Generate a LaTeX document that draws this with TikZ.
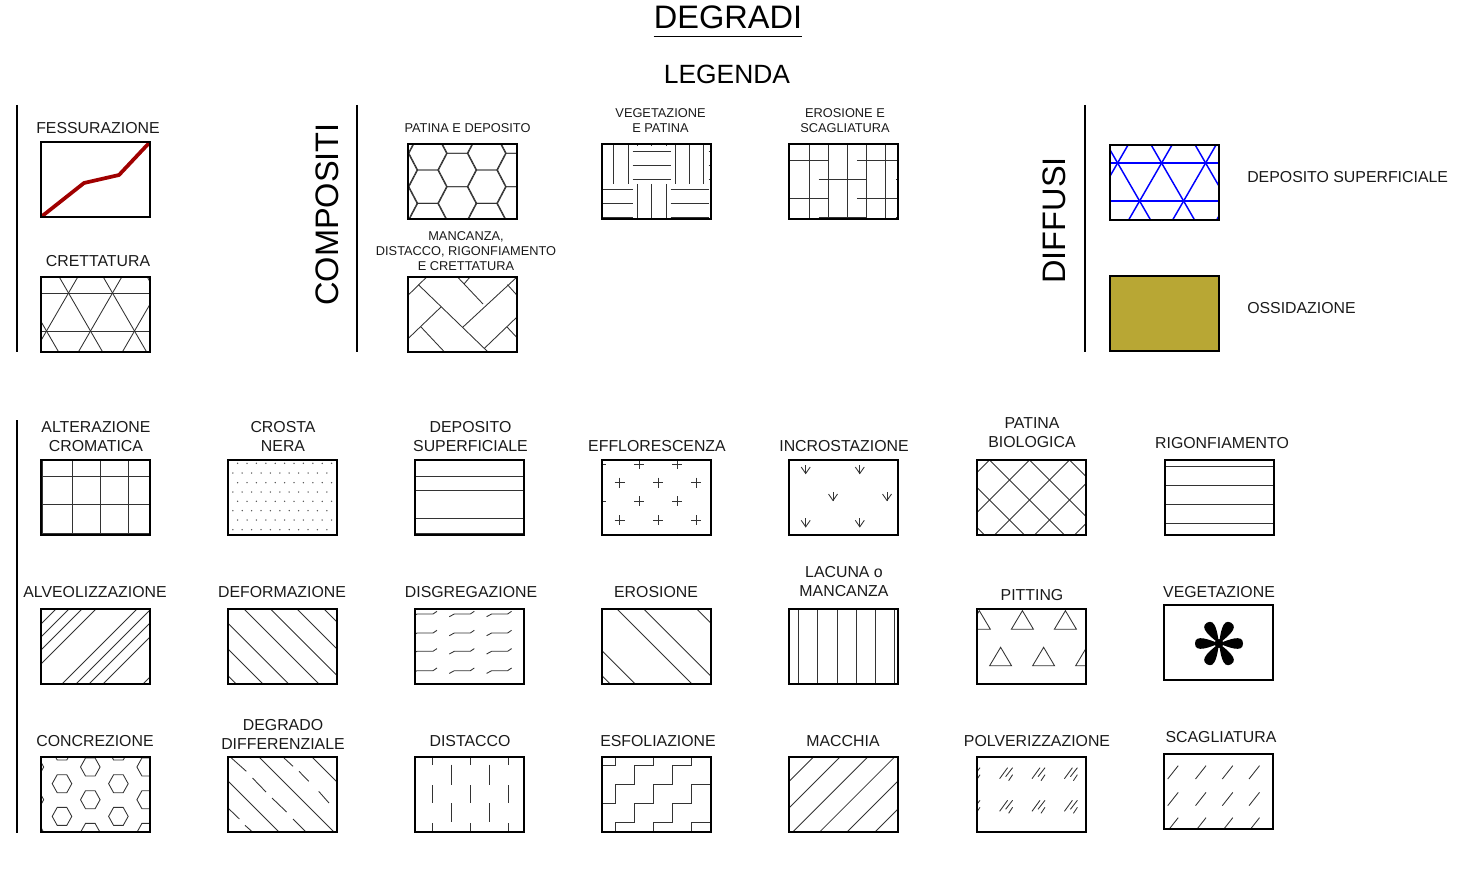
\documentclass[tikz,border=0pt]{standalone}
\usepackage{fontspec}
\setmainfont{Liberation Sans}
\usepackage{xcolor}
\usetikzlibrary{positioning}
\definecolor{crackred}{RGB}{160,0,0}
\definecolor{netblue}{RGB}{0,0,255}
\definecolor{rustgold}{RGB}{184,167,52}
\definecolor{inkblack}{RGB}{26,26,26}
\tikzset{
  boxframe/.style={draw=black,line width=1.15pt,rectangle,inner sep=0pt,
    minimum width=81.75pt,minimum height=56.25pt},
  hatchline/.style={color=black!80,line width=.65pt},
  lab/.style={font=\fontsize{11.9}{14.25}\selectfont,align=center,text=inkblack,inner sep=0pt,yshift=-.75pt},
  smalllab/.style={font=\fontsize{9.6}{11.25}\selectfont,align=center,text=inkblack,inner sep=0pt},
  grouplab/.style={font=\fontsize{24.4}{28}\selectfont,rotate=90,text=black,inner sep=0pt},
  rulebar/.style={draw=black,line width=1pt}
}
\newcommand{\hatchbox}[4]{%
  \begin{scope}[shift={(#2,#3)}]
    \begin{scope}[hatchline]
      \clip (0,0) rectangle (109,75);
      #4
    \end{scope}
    \node[boxframe] (#1) at (54.5,37.5) {};
  \end{scope}}
\newcommand{\slashlines}[1]{\foreach \c in {#1} \draw ({\c},0) -- ({\c-90},90);}
\newcommand{\backlines}[1]{\foreach \c in {#1} \draw ({\c},0) -- ({\c+90},90);}
\newcommand{\hlines}[1]{\foreach \c in {#1} \draw (0,\c) -- (109,\c);}
\newcommand{\vlines}[1]{\foreach \c in {#1} \draw (\c,0) -- (\c,75);}
\newcommand{\hexat}[5]{\draw ({#1-#3},{#2}) -- ({#1-#4},{#2-#5}) -- ({#1+#4},{#2-#5})
  -- ({#1+#3},{#2}) -- ({#1+#4},{#2+#5}) -- ({#1-#4},{#2+#5}) -- cycle;}
\newcommand{\trinet}[3]{%
  \foreach \c in {#2,#3} \draw (0,\c) -- (109,\c);
  \foreach \k in {-3,...,4} {
    \draw ({#1+44*\k-66},{#2-114}) -- ({#1+44*\k+66},{#2+114});
    \draw ({#1+44*\k+66},{#2-114}) -- ({#1+44*\k-66},{#2+114});
  }}
\begin{document}
\begin{tikzpicture}[x=.75pt,y=-.75pt]
  \useasboundingbox (0,0) rectangle (1477,877);
  \node[font=\fontsize{24.4}{28}\selectfont,text=black,inner sep=0pt,minimum height=28.5pt,anchor=center] (title) at (728,17) {DEGRADI};
  \draw[black,line width=1pt] (title.south west) -- (title.south east);
  \node[font=\fontsize{19.8}{24}\selectfont,text=black,inner sep=0pt] (legend) at (727,74) {LEGENDA};
  \node[grouplab] (compositi) at (327,214.5) {COMPOSITI};
  \node[grouplab] (diffusi) at (1054,220.5) {DIFFUSI};

  \draw[rulebar] (17,105) -- (17,352);
  \draw[rulebar] (357,105) -- (357,352);
  \draw[rulebar] (1085,105) -- (1085,352);
  \draw[rulebar] (17,420) -- (17,833);

  \hatchbox{fessurazione}{41}{142}{
    \draw[crackred,line width=2.8pt,line join=round] (0,75) -- (43,41) -- (78,33) -- (109,0);}
  \node[lab] (fessurazione-lab) at (98,127) {FESSURAZIONE};
  \hatchbox{crettatura}{41}{277}{\trinet{27.5}{16}{54}}
  \node[lab] (crettatura-lab) at (98,260) {CRETTATURA};

  \hatchbox{patinadeposito}{408}{144}{
    \foreach \i in {-1,0,1,2} \foreach \j in {-1,0,1,2} {
      \hexat{49.25+59*\i}{26+33.4*\j}{19.5}{10.75}{16.7}
      \hexat{78.75+59*\i}{42.7+33.4*\j}{19.5}{10.75}{16.7}
    }}
  \node[smalllab] (patinadeposito-lab) at (467.5,128) {PATINA E DEPOSITO};
  \hatchbox{mancanza}{408}{277}{
    \draw (0,18.3) -- (18.7,0);
    \draw (10.4,7.7) -- (80,75);
    \draw (49.5,0) -- (75,27);
    \draw (62,0) -- (56,7);
    \draw (99.5,7.7) -- (109,18.3);
    \draw (109,0) -- (55,50);
    \draw (33,30) -- (0,61.7);
    \draw (13,50) -- (36.5,75);
    \draw (109,40) -- (76,71.7);
    \draw (99,50) -- (109,60.7);}
  \node[smalllab] (mancanza-lab) at (466,251) {MANCANZA,\\DISTACCO, RIGONFIAMENTO\\E CRETTATURA};
  \hatchbox{vegpatina}{602}{144}{
    \foreach \c in {11.4,26,73.7,87.7,101.7} \draw (\c,0) -- (\c,40);
    \foreach \c in {7,21,35} {
      \draw (30.5,\c) -- (68.6,\c);
      \draw (106.5,\c) -- (109,\c);}
    \foreach \c in {45,59,73} {
      \draw (0,\c) -- (31,\c);
      \draw (68.6,\c) -- (106.8,\c);}
    \foreach \c in {35.6,49.6,64} {
      \draw (\c,40) -- (\c,75);
      \draw (\c,0) -- (\c,2);}}
  \node[smalllab] (vegpatina-lab) at (660.5,121) {VEGETAZIONE\\E PATINA};
  \hatchbox{erosscagl}{789}{144}{
    \vlines{20.3,39.4,58.5,77.5,96.6}
    \foreach \c in {16.7,54.7} {
      \draw (0,\c) -- (39.4,\c);
      \draw (67.8,\c) -- (109,\c);}
    \foreach \c in {35.7,73.3} {
      \draw (29.7,\c) -- (77.5,\c);
      \draw (106.8,\c) -- (109,\c);}}
  \node[smalllab] (erosscagl-lab) at (845,121) {EROSIONE E\\SCAGLIATURA};

  \hatchbox{depblu}{1110}{145}{
    \begin{scope}[color=netblue,line width=1.1pt]
      \trinet{7.6}{18}{56}
    \end{scope}}
  \node[lab,anchor=west] (depblu-lab) at (1247,176) {DEPOSITO SUPERFICIALE};
  \hatchbox{ossidazione}{1110}{276}{\fill[rustgold] (0,0) rectangle (109,75);}
  \node[lab,anchor=west] (ossidazione-lab) at (1247,307) {OSSIDAZIONE};

  \hatchbox{alterazione}{41}{460}{
    \vlines{1.4,31,59.3,87.6}
    \hlines{16,44.7,73.3}}
  \node[lab] (alterazione-lab) at (96,436) {ALTERAZIONE\\CROMATICA};
  \hatchbox{crosta}{228}{460}{
    \foreach \r/\s in {3.3/9.6,13/4.8,22.7/9.6,32/4.8,41.3/9.6,50.7/4.8,60/9.6,69.7/4.8}
      \foreach \i in {0,...,10} \fill[black!70] ({\s+9.4*\i},\r) circle (.75);}
  \node[lab] (crosta-lab) at (283,435) {CROSTA\\NERA};
  \hatchbox{deposito}{415}{460}{\hlines{16,30,58.3,73.3}}
  \node[lab] (deposito-lab) at (470.5,436) {DEPOSITO\\SUPERFICIALE};
  \hatchbox{efflorescenza}{602}{460}{
    \foreach \px/\py in {-1/4,37/4,75/4,17.6/22.7,56/22.7,94.4/22.7,-1/41.3,37/41.3,75/41.3,
      17.6/60,56/60,94.4/60,-1/78.6,37/78.6,75/78.6}
      \draw (\px,\py) +(-5,0) -- +(5,0) +(0,-5) -- +(0,5);}
  \node[lab] (efflorescenza-lab) at (657,445) {EFFLORESCENZA};
  \hatchbox{incrostazione}{789}{460}{
    \foreach \px/\py in {16.7/9,70.8/9,44/36,98/36,16.7/62.3,70.8/62.3} {
      \draw (\px,\py) +(0,-4) -- +(0,4.5);
      \draw (\px,\py) +(-4.5,-2) -- +(0,4.5) -- +(4.5,-2);}}
  \node[lab] (incrostazione-lab) at (844,445) {INCROSTAZIONE};
  \hatchbox{patinabio}{977}{460}{
    \backlines{-107.5,-67.5,-27.5,12.5,52.5,92.5}
    \slashlines{12.5,52.5,92.5,132.5,172.5}}
  \node[lab] (patinabio-lab) at (1032,432) {PATINA\\BIOLOGICA};
  \hatchbox{rigonfiamento}{1165}{460}{\hlines{6.3,25.3,44.7,63.7}}
  \node[lab] (rigonfiamento-lab) at (1222,442) {RIGONFIAMENTO};

  \hatchbox{alveolizzazione}{41}{609}{\slashlines{15,28,41,55,96,110,123,137,177}}
  \node[lab] (alveolizzazione-lab) at (95,591) {ALVEOLIZZAZIONE};
  \hatchbox{deformazione}{228}{609}{\backlines{16,42.4,69,96,-14.3,-40,-66.7}}
  \node[lab] (deformazione-lab) at (282,591) {DEFORMAZIONE};
  \hatchbox{disgregazione}{415}{609}{
    \foreach \py in {5,24,42.3,61.7} \foreach \px in {2,39.3,76.6}
      \draw (\px,\py) +(-5,2.7) -- +(0,0) -- +(16,0) -- +(20,-2.7);}
  \node[lab] (disgregazione-lab) at (471,591) {DISGREGAZIONE};
  \hatchbox{erosione}{602}{609}{\backlines{15,41.7,94.7,-41.7,-66.7}}
  \node[lab] (erosione-lab) at (656,591) {EROSIONE};
  \hatchbox{lacuna}{789}{609}{\vlines{9.7,28.7,48,67,86,105}}
  \node[lab] (lacuna-lab) at (844,581) {LACUNA o\\MANCANZA};
  \hatchbox{pitting}{977}{609}{
    \foreach \px/\py in {2.3/1.7,45.4/1.7,88.4/1.7,23.6/38.3,66.6/38.3,109.6/38.3}
      \draw (\px,\py) -- ++(-11,18.5) -- ++(22,0) -- cycle;}
  \node[lab] (pitting-lab) at (1032,594) {PITTING};
  \hatchbox{vegetazione}{1164}{605}{
    \foreach \ang in {0,60,...,300}
      \fill[black,shift={(55,38.5)},rotate=\ang] (0,0) .. controls (9,-3.5) and (24,-10) .. (24,0)
        .. controls (24,10) and (9,3.5) .. (0,0);
    \fill[black] (55,38.5) circle (4.5);}
  \node[lab] (vegetazione-lab) at (1219,591) {VEGETAZIONE};

  \hatchbox{concrezione}{41}{757}{
    \foreach \i in {-1,0,1} \foreach \j in {-1,0,1,2} {
      \hexat{49.3+56.4*\i}{10+32.7*\j}{9.8}{4.8}{9}
      \hexat{21+56.4*(\i+1)}{26.7+32.7*\j}{9.8}{4.8}{9}
    }}
  \node[lab] (concrezione-lab) at (95,740) {CONCREZIONE};
  \hatchbox{differenziale}{228}{757}{
    \backlines{31,84,-24}
    \draw (3.4,1) -- (18.3,14.3);
    \draw (56,1) -- (65,9.3);
    \draw (71,14.3) -- (80.7,24.3);
    \draw (90.7,34.3) -- (101,46);
    \draw (24.5,21) -- (38,35);
    \draw (44,41) -- (58.6,55);
    \draw (65,62) -- (78,75);
    \draw (0,51) -- (11.4,62);
    \draw (17,68.3) -- (24.5,75);}
  \node[lab] (differenziale-lab) at (283,733.5) {DEGRADO\\DIFFERENZIALE};
  \hatchbox{distacco}{415}{757}{
    \foreach \c in {17.6,55.5,93.4} {
      \draw (\c,0) -- (\c,7.7);
      \draw (\c,28) -- (\c,46);
      \draw (\c,66) -- (\c,75);}
    \foreach \c in {36.5,74.5} {
      \draw (\c,7.7) -- (\c,28);
      \draw (\c,46) -- (\c,65);}}
  \node[lab] (distacco-lab) at (470,740) {DISTACCO};
  \hatchbox{esfoliazione}{602}{757}{
    \draw (0,8.3) -- (13,8.3) -- (13,0);
    \draw (0,46.3) -- (13,46.3) -- (13,27.3) -- (32.4,27.3) -- (32.4,8.3) -- (51.4,8.3) -- (51.4,0);
    \draw (13,75) -- (13,65.3) -- (32.4,65.3) -- (32.4,46.3) -- (51.4,46.3) -- (51.4,27.3)
      -- (70.8,27.3) -- (70.8,8.3) -- (89.8,8.3) -- (89.8,0);
    \draw (51.4,75) -- (51.4,65.3) -- (70.8,65.3) -- (70.8,46.3) -- (89.8,46.3) -- (89.8,27.3) -- (109,27.3);
    \draw (89.8,75) -- (89.8,65.3) -- (109,65.3);}
  \node[lab] (esfoliazione-lab) at (658,740) {ESFOLIAZIONE};
  \hatchbox{macchia}{789}{757}{\slashlines{24.5,51,78.7,105.6,133,161}}
  \node[lab] (macchia-lab) at (843,740) {MACCHIA};
  \hatchbox{polverizzazione}{977}{757}{
    \foreach \py in {16.7,49.3} \foreach \px in {-3,29.6,62,94.4} {
      \draw (\px,\py) +(-7,5) -- +(1,-6);
      \draw (\px,\py) +(-1,3) -- +(6,-6);
      \draw (\px,\py) +(2,7) -- +(6,1);}}
  \node[lab] (polverizzazione-lab) at (1037,740) {POLVERIZZAZIONE};
  \hatchbox{scagliatura}{1164}{754}{
    \foreach \py in {25,51.7,77} \foreach \px in {3.7,31.5,58.3,85}
      \draw (\px,\py) -- ++(10.5,-13.3);}
  \node[lab] (scagliatura-lab) at (1221,736) {SCAGLIATURA};
\end{tikzpicture}
\end{document}
